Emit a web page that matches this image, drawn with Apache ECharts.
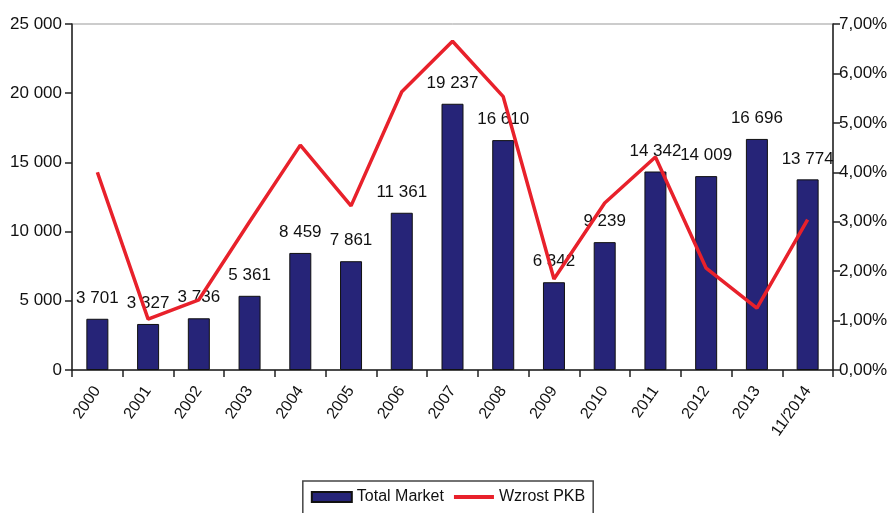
<!DOCTYPE html>
<html lang="pl">
<head>
<meta charset="UTF-8">
<title>Total Market / Wzrost PKB</title>
<script src="https://cdn.jsdelivr.net/npm/echarts@6/dist/echarts.min.js"></script>
<style>
  html, body { margin: 0; padding: 0; background: #fff; }
  #main { width: 896px; height: 513px; }
</style>
</head>
<body>
<div id="main"></div>
<script>
var years = ['2000', '2001', '2002', '2003', '2004', '2005', '2006', '2007', '2008', '2009', '2010', '2011', '2012', '2013', '11/2014'];
var totalMarket = [3701, 3327, 3736, 5361, 8459, 7861, 11361, 19237, 16610, 6342, 9239, 14342, 14009, 16696, 13774];
var wzrostPKB = [4.0, 1.03, 1.42, 3.0, 4.55, 3.32, 5.63, 6.65, 5.53, 1.84, 3.38, 4.31, 2.06, 1.25, 3.04];

var font = 'Liberation Sans, Arial, sans-serif';

function spaced(v) {
  return String(v).replace(/\B(?=(\d{3})+(?!\d))/g, ' ');
}

var chart = echarts.init(document.getElementById('main'));

chart.setOption({
  animation: false,
  textStyle: { fontFamily: font },
  grid: {
    left: 72, right: 63, top: 24, bottom: 143,
    show: true, borderColor: '#999', borderWidth: 1
  },
  legend: {
    bottom: -4,
    left: 'center',
    data: [
      { name: 'Total Market', icon: 'rect' },
      { name: 'Wzrost PKB', itemStyle: { opacity: 0 }, lineStyle: { width: 4 } }
    ],
    borderColor: '#444',
    borderWidth: 1.5,
    padding: [8, 8, 12, 8],
    itemGap: 8,
    itemWidth: 40,
    itemHeight: 10,
    textStyle: { fontSize: 16, color: '#111', fontFamily: font }
  },
  xAxis: {
    type: 'category',
    data: years,
    axisLine: { lineStyle: { color: '#222', width: 1.5 } },
    axisTick: { show: true, length: 7, lineStyle: { color: '#222', width: 1.5 } },
    axisLabel: { rotate: 55, fontSize: 16, color: '#111', margin: 18, fontFamily: font }
  },
  yAxis: [
    {
      type: 'value',
      min: 0, max: 25000, interval: 5000,
      splitLine: { show: false },
      axisLine: { show: true, lineStyle: { color: '#222', width: 1.5 } },
      axisTick: { show: true, length: 7, lineStyle: { color: '#222', width: 1.5 } },
      axisLabel: { fontSize: 17, color: '#111', margin: 10, fontFamily: font, formatter: spaced }
    },
    {
      type: 'value',
      min: 0, max: 7, interval: 1,
      splitLine: { show: false },
      axisLine: { show: true, lineStyle: { color: '#222', width: 1.5 } },
      axisTick: { show: true, length: 7, lineStyle: { color: '#222', width: 1.5 } },
      axisLabel: {
        fontSize: 17, color: '#111', margin: 6, fontFamily: font,
        formatter: function (v) { return v.toFixed(2).replace('.', ',') + '%'; }
      }
    }
  ],
  series: [
    {
      name: 'Total Market',
      type: 'bar',
      data: totalMarket,
      barWidth: 22,
      itemStyle: { color: '#262478', borderColor: '#111', borderWidth: 1 },
      label: {
        show: true, position: 'top', distance: 12,
        fontSize: 17, color: '#111', fontFamily: font,
        formatter: function (p) { return spaced(p.value); }
      }
    },
    {
      name: 'Wzrost PKB',
      type: 'line',
      yAxisIndex: 1,
      data: wzrostPKB,
      symbol: 'none',
      z: 3,
      lineStyle: { color: '#e8212b', width: 3.5 },
      itemStyle: { color: '#e8212b' }
    }
  ]
});
</script>
</body>
</html>
